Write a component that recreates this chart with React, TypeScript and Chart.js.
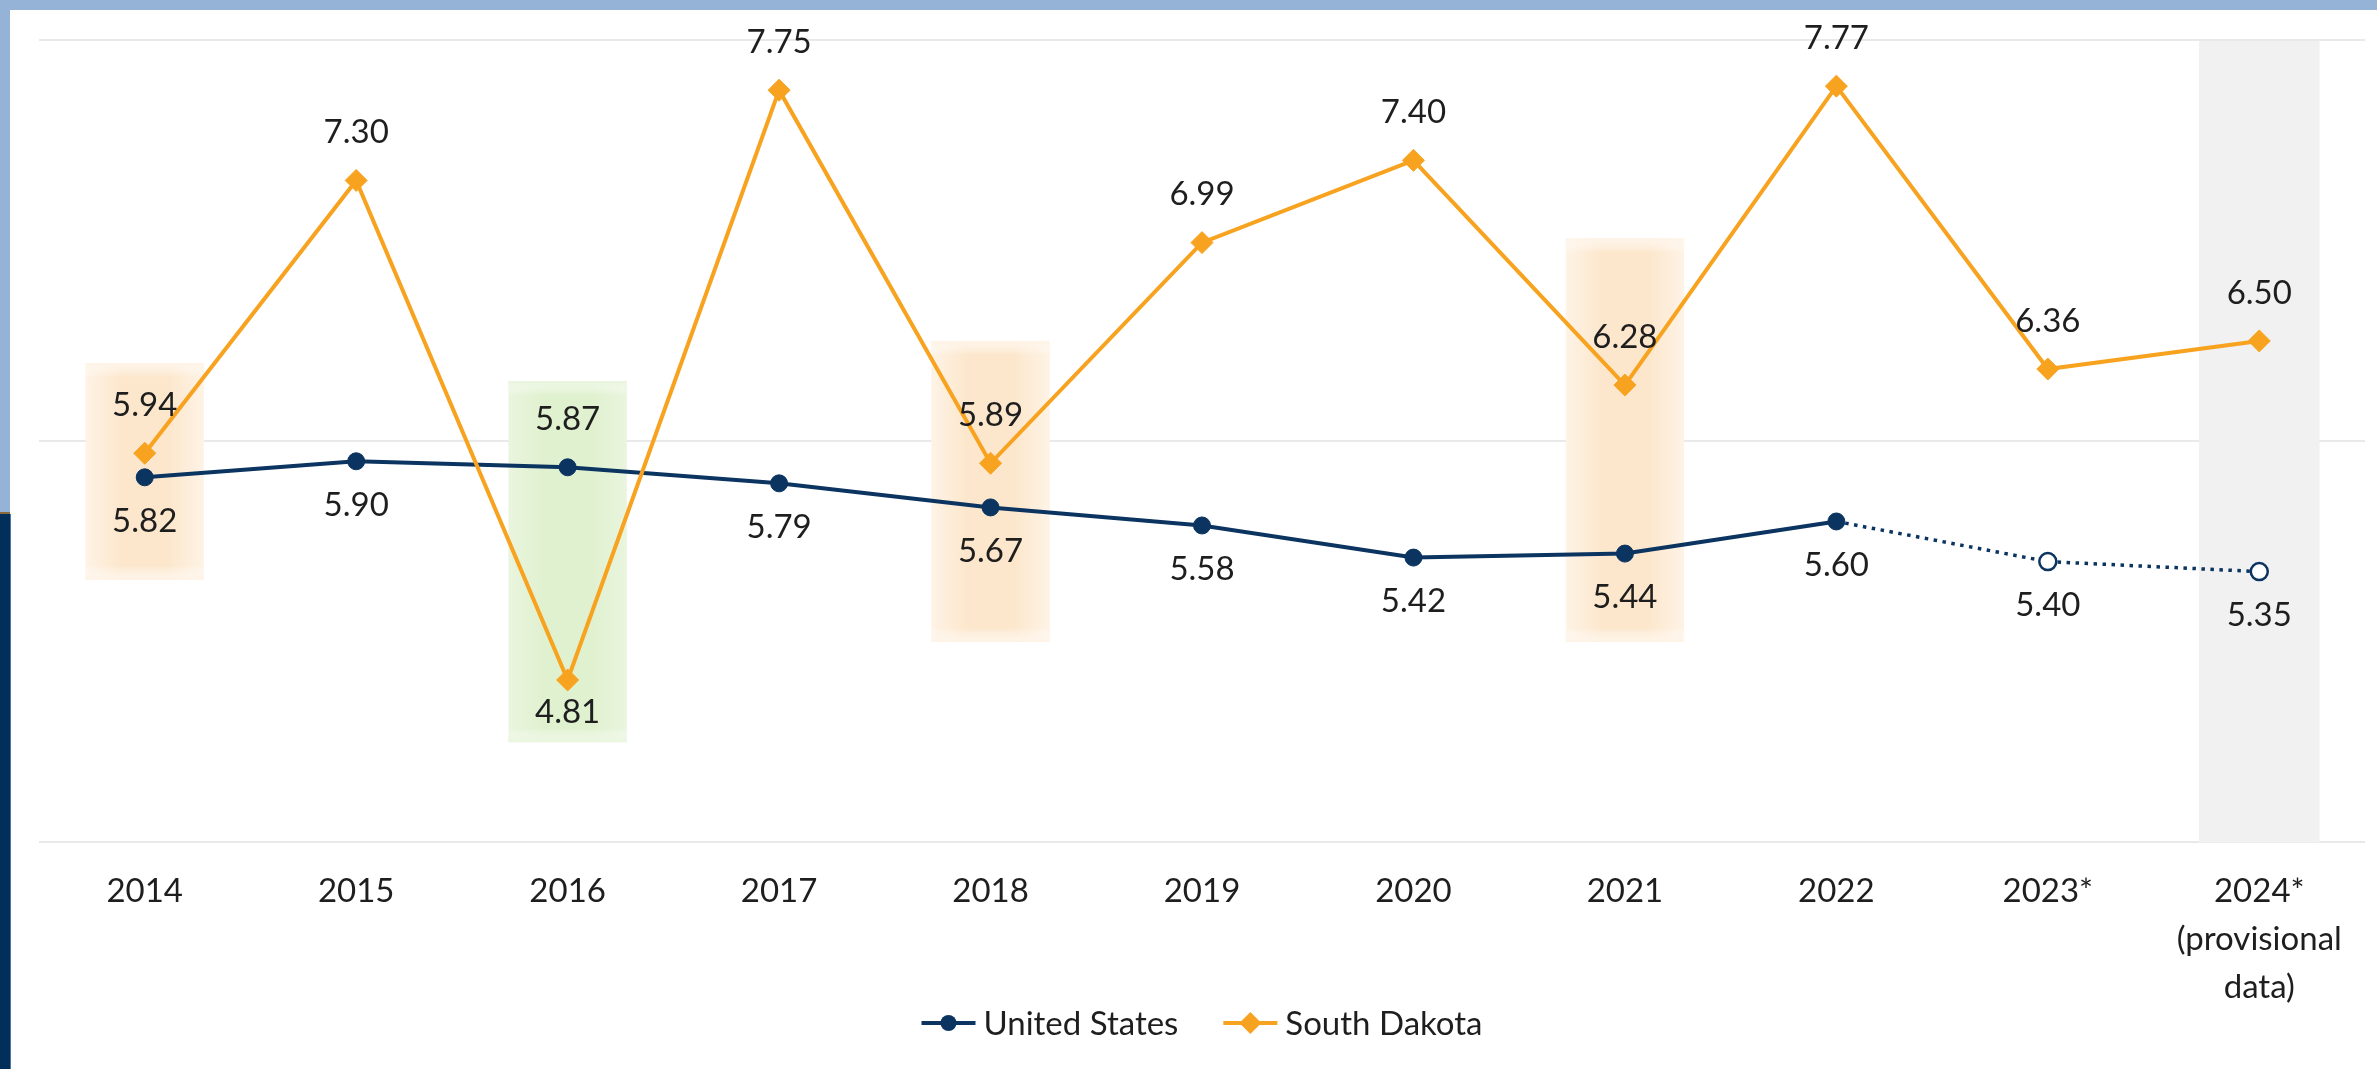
import React, { useEffect, useRef } from 'react';
import { Chart, registerables } from 'chart.js';

Chart.register(...registerables);

// ---- data ----
const years: (string | string[])[] = [
  '2014', '2015', '2016', '2017', '2018', '2019', '2020', '2021', '2022', '2023*',
  ['2024*', '(provisional', 'data)'],
];
const usValues = [5.82, 5.90, 5.87, 5.79, 5.67, 5.58, 5.42, 5.44, 5.60, 5.40, 5.35];
const sdValues = [5.94, 7.30, 4.81, 7.75, 5.89, 6.99, 7.40, 6.28, 7.77, 6.36, 6.50];
const usLabelSide = ['below', 'below', 'above', 'below', 'below', 'below', 'below', 'below', 'below', 'below', 'below'];
const sdLabelSide = ['above', 'above', 'below', 'above', 'above', 'above', 'above', 'above', 'above', 'above', 'above'];
const usEstimateFrom = 9; // 2023*, 2024* are estimates (hollow markers, dotted line)
const yMin = 4;
const yMax = 8;
const yStep = 2;
const provisionalIndex = 10;
const highlightIndex = [0, 2, 4, 7];
const highlightFrom = [5.31, 4.5, 5.0, 5.0];
const highlightTo = [6.39, 6.3, 6.5, 7.01];
const highlightTone = ['orange', 'green', 'orange', 'orange'];

const NAVY = '#0B3460';
const ORANGE = '#F8A320';
const FONT = 'Lato, "Open Sans", sans-serif';
const FONT_SIZE = 33;

const W = 2377;
const H = 1069;

const framePlugin = {
  id: 'frame',
  beforeDraw(chart: any) {
    const ctx = chart.ctx;
    ctx.save();
    ctx.fillStyle = '#ffffff';
    ctx.fillRect(0, 0, chart.width, chart.height);
    ctx.fillStyle = '#95B3D7';
    ctx.fillRect(0, 0, chart.width, 10);
    ctx.fillRect(0, 0, 10, 513);
    ctx.fillStyle = '#8C6A3C';
    ctx.fillRect(0, 512, 10, 2);
    ctx.fillStyle = '#00305A';
    ctx.fillRect(0, 514, 10, chart.height - 514);
    ctx.fillStyle = '#4F76A6';
    ctx.fillRect(10, 514, 1, chart.height - 514);
    ctx.restore();
  },
};

const bandsPlugin = {
  id: 'bands',
  beforeDatasetsDraw(chart: any) {
    const { ctx, scales } = chart;
    const x = scales.x;
    const y = scales.y;
    const step = x.getPixelForValue(1) - x.getPixelForValue(0);
    ctx.save();
    {
      const cx = x.getPixelForValue(provisionalIndex);
      const hw = step * 0.285;
      const top = y.getPixelForValue(yMax) + 1;
      const bot = y.getPixelForValue(yMin);
      ctx.fillStyle = '#F1F1F1';
      ctx.fillRect(cx - hw, top, hw * 2, bot - top);
    }
    highlightIndex.forEach((idx, i) => {
      const cx = x.getPixelForValue(idx);
      const hw = step * 0.28;
      const top = y.getPixelForValue(highlightTo[i]);
      const bot = y.getPixelForValue(highlightFrom[i]);
      const x0 = cx - hw;
      const x1 = cx + hw;
      const orange = highlightTone[i] === 'orange';
      const edge = orange ? '#FEF3E6' : '#E9F5DE';
      const core = orange ? '#FCE7CC' : '#E0F1CF';
      const g = ctx.createLinearGradient(x0, 0, x1, 0);
      g.addColorStop(0, edge);
      g.addColorStop(0.3, core);
      g.addColorStop(0.7, core);
      g.addColorStop(1, edge);
      ctx.fillStyle = g;
      ctx.fillRect(x0, top, x1 - x0, bot - top);
      const gv = ctx.createLinearGradient(0, top, 0, bot);
      const fade = 14 / (bot - top);
      gv.addColorStop(0, edge);
      gv.addColorStop(fade, 'rgba(255,255,255,0)');
      gv.addColorStop(1 - fade, 'rgba(255,255,255,0)');
      gv.addColorStop(1, edge);
      ctx.fillStyle = gv;
      ctx.fillRect(x0, top, x1 - x0, bot - top);
    });
    ctx.restore();
  },
};

const labelsPlugin = {
  id: 'valueLabels',
  afterDatasetsDraw(chart: any) {
    const { ctx } = chart;
    ctx.save();
    ctx.font = `${FONT_SIZE}px ${FONT}`;
    ctx.fillStyle = '#1E1E1E';
    ctx.textAlign = 'center';
    ctx.textBaseline = 'middle';
    chart.data.datasets.forEach((ds: any, di: number) => {
      const meta = chart.getDatasetMeta(di);
      const sides = di === 0 ? usLabelSide : sdLabelSide;
      meta.data.forEach((pt: any, i: number) => {
        const side = sides[i];
        let off: number;
        if (di === 0) off = side === 'below' ? 44 : -48;
        else off = side === 'below' ? 32 : -48;
        ctx.fillText(Number(ds.data[i]).toFixed(2), pt.x, pt.y + off);
      });
    });
    ctx.restore();
  },
};

const legendPlugin = {
  id: 'customLegend',
  afterDraw(chart: any) {
    const { ctx } = chart;
    const ds = chart.data.datasets;
    ctx.save();
    ctx.font = `${FONT_SIZE}px ${FONT}`;
    ctx.textBaseline = 'middle';
    ctx.textAlign = 'left';
    const symW = 54;
    const symGap = 8;
    const itemGap = 45;
    const widths = ds.map((d: any) => symW + symGap + ctx.measureText(d.label).width);
    const total = widths.reduce((a: number, b: number) => a + b, 0) + itemGap * (ds.length - 1);
    const area = chart.chartArea;
    let xPos = (area.left + area.right) / 2 - total / 2;
    const yc = 1023;
    ds.forEach((d: any, i: number) => {
      const color = d.borderColor;
      ctx.strokeStyle = color;
      ctx.lineWidth = 4;
      ctx.beginPath();
      ctx.moveTo(xPos, yc);
      ctx.lineTo(xPos + symW, yc);
      ctx.stroke();
      ctx.fillStyle = color;
      const mx = xPos + symW / 2;
      ctx.beginPath();
      if (d.pointStyle === 'rectRot') {
        const r = 11;
        ctx.moveTo(mx, yc - r);
        ctx.lineTo(mx + r, yc);
        ctx.lineTo(mx, yc + r);
        ctx.lineTo(mx - r, yc);
        ctx.closePath();
      } else {
        ctx.arc(mx, yc, 8, 0, Math.PI * 2);
      }
      ctx.fill();
      ctx.fillStyle = '#1E1E1E';
      ctx.fillText(d.label, xPos + symW + symGap, yc + 1);
      xPos += widths[i] + itemGap;
    });
    ctx.restore();
  },
};

export default function App() {
  const ref = useRef<HTMLCanvasElement | null>(null);

  useEffect(() => {
    if (!ref.current) return;
    const chart = new Chart(ref.current, {
      type: 'line',
      data: {
        labels: years as any,
        datasets: [
          {
            label: 'United States',
            data: usValues,
            borderColor: NAVY,
            backgroundColor: NAVY,
            borderWidth: 4,
            tension: 0,
            pointStyle: 'circle',
            pointRadius: 8.5,
            pointBackgroundColor: usValues.map((_, i) => (i >= usEstimateFrom ? '#ffffff' : NAVY)),
            pointBorderColor: NAVY,
            pointBorderWidth: usValues.map((_, i) => (i >= usEstimateFrom ? 2.5 : 1)),
            segment: {
              borderDash: (c: any) => (c.p1DataIndex >= usEstimateFrom ? [3.5, 5.5] : undefined),
              borderWidth: (c: any) => (c.p1DataIndex >= usEstimateFrom ? 3.5 : undefined),
            },
            order: 1,
          } as any,
          {
            label: 'South Dakota',
            data: sdValues,
            borderColor: ORANGE,
            backgroundColor: ORANGE,
            borderWidth: 4,
            tension: 0,
            pointStyle: 'rectRot',
            pointRadius: 11,
            pointBackgroundColor: ORANGE,
            pointBorderColor: ORANGE,
            pointBorderWidth: 1,
            order: 0,
          } as any,
        ],
      },
      options: {
        responsive: false,
        animation: false,
        devicePixelRatio: 1,
        layout: { padding: { left: 39, right: 12, top: 40, bottom: 33 } },
        plugins: {
          legend: { display: false },
          tooltip: { enabled: false },
          title: { display: false },
        },
        scales: {
          x: {
            offset: true,
            grid: { display: false, drawTicks: false },
            border: { display: false },
            ticks: {
              color: '#1E1E1E',
              padding: 25,
              maxRotation: 0,
              autoSkip: false,
              font: { family: FONT, size: FONT_SIZE, lineHeight: 1.45 },
            },
          },
          y: {
            min: yMin,
            max: yMax,
            ticks: { display: false, stepSize: yStep },
            grid: { color: '#E9E9E9', lineWidth: 2, drawTicks: false },
            border: { display: false },
          },
        },
      },
      plugins: [framePlugin, bandsPlugin, labelsPlugin, legendPlugin],
    });
    return () => chart.destroy();
  }, []);

  return (
    <div style={{ position: 'fixed', left: 0, top: 0, width: W, height: H, background: '#fff' }}>
      <canvas ref={ref} width={W} height={H} style={{ width: W, height: H, display: 'block' }} />
    </div>
  );
}
